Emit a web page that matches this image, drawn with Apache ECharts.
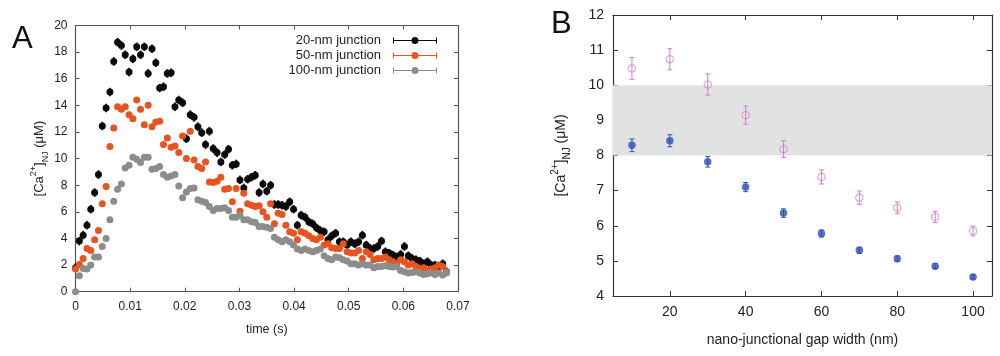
<!DOCTYPE html>
<html><head><meta charset="utf-8">
<script src="https://cdn.jsdelivr.net/npm/echarts@6/dist/echarts.min.js"></script>
<style>html,body{margin:0;padding:0;background:#fff}#c{width:1000px;height:356px}</style>
</head><body><div id="c"></div>
<script>
// ---------- Panel A data ----------
const timeStep = 0.0007; // sampling interval (s)
const junction20 = [1.8,3.8,4.25,5.0,6.2,7.45,8.8,12.45,13.8,15.0,17.3,18.75,18.5,17.8,16.5,17.5,18.4,17.8,18.4,16.4,18.25,17.2,15.3,15.4,16.4,16.45,13.9,14.4,14.2,11.5,13.3,13.1,12.4,11.95,11.05,12.05,10.75,10.45,9.75,10.3,10.7,9.5,9.6,8.4,7.8,8.45,8.6,8.75,7.45,8.1,7.55,8.0,6.55,6.55,6.5,6.4,6.75,6.2,5.0,5.75,5.6,5.25,5.1,4.8,4.6,4.5,3.9,4.2,4.4,3.75,3.75,3.5,3.75,3.6,3.75,4.25,3.5,3.25,3.25,3.4,3.8,3.0,2.9,2.75,2.6,2.8,3.4,2.7,2.5,2.4,2.3,2.1,2.25,2.0,2.0,1.9,2.1,1.5];
const junction50 = [1.7,2.05,2.5,3.25,3.1,3.9,4.6,6.6,7.9,10.9,12.3,13.9,13.7,13.9,13.3,13.0,14.4,13.7,12.55,14.0,12.4,12.75,12.8,11.05,11.55,10.85,10.95,10.45,11.7,10.0,12.05,9.9,9.4,9.25,9.75,8.25,8.2,8.3,8.6,7.7,7.75,6.75,7.75,6.05,7.4,6.6,6.5,6.4,6.45,6.0,5.6,6.6,5.1,5.9,5.8,5.0,4.5,4.4,3.9,4.5,4.4,4.2,4.0,3.9,4.1,3.5,3.6,3.3,3.25,3.25,3.6,3.0,2.9,2.9,3.1,2.5,3.0,2.8,2.4,2.5,2.5,2.6,2.4,2.25,2.1,2.4,2.25,2.0,2.1,1.9,1.75,1.8,1.6,1.7,1.8,2.0,1.9,1.5];
const junction100 = [0.0,1.2,1.75,1.7,2.0,2.6,2.6,3.4,4.0,5.4,6.8,7.7,8.1,9.3,9.5,10.1,9.95,9.7,10.1,10.1,9.2,9.25,9.4,8.8,8.6,8.7,8.8,7.95,7.05,7.5,7.75,7.8,6.9,6.8,6.7,6.4,6.1,6.25,6.25,6.3,6.1,5.6,5.6,5.75,5.4,5.4,5.25,5.2,4.9,4.9,4.85,4.75,4.1,3.9,3.75,3.9,3.75,3.5,3.2,3.1,3.2,3.1,3.0,3.1,3.2,2.7,2.5,2.4,2.6,2.55,2.4,2.3,2.1,2.1,2.0,2.1,2.0,2.0,1.8,1.9,1.9,1.95,1.9,1.85,1.9,1.6,1.5,1.4,1.45,1.5,1.4,1.3,1.35,1.4,1.3,1.4,1.25,1.4];
const err20 = 0.28, err50 = 0.18, err100 = 0.15;
const seriesNamesA = ['20-nm junction','50-nm junction','100-nm junction'];

// ---------- Panel B data ----------
const gapWidth = [10,20,30,40,50,60,70,80,90,100];
const caFilled = [8.29,8.42,7.82,7.10,6.36,5.78,5.30,5.06,4.85,4.54];
const caFilledErr = [0.18,0.17,0.15,0.13,0.12,0.10,0.09,0.08,0.07,0.06];
const caOpen = [10.48,10.74,10.02,9.15,8.18,7.39,6.80,6.51,6.25,5.85];
const caOpenErr = [0.31,0.30,0.30,0.26,0.24,0.20,0.19,0.17,0.16,0.14];
const gapTicks = [20,40,60,80,100];
const bandRange = [8,10];

const FONT = '"Liberation Sans", Arial, Helvetica, sans-serif';
const colA = ['#0a0a0a','#e9531f','#8c8c8c'];
const colBlue = '#2e4fb4', colPink = '#d47cc6';

function toTriples(xs, ys, e) {
  return ys.map((v, i) => [xs[i], v, Array.isArray(e) ? e[i] : e]);
}
const timesA = junction20.map((_, i) => +(i * timeStep).toFixed(5));

function errRender(capHalf, color) {
  return function (params, api) {
    const x = api.value(0), y = api.value(1), e = api.value(2);
    const t = api.coord([x, y + e]), b = api.coord([x, y - e]);
    const st = { stroke: color, lineWidth: 1 };
    return { type: 'group', children: [
      { type: 'line', shape: { x1: t[0], y1: t[1], x2: b[0], y2: b[1] }, style: st },
      { type: 'line', shape: { x1: t[0] - capHalf, y1: t[1], x2: t[0] + capHalf, y2: t[1] }, style: st },
      { type: 'line', shape: { x1: b[0] - capHalf, y1: b[1], x2: b[0] + capHalf, y2: b[1] }, style: st }
    ]};
  };
}

const yName = '{t|[Ca}{sup|2+}{t|]}{sub|NJ}{t| (μM)}';
function yNameStyle(fs) {
  return { fontFamily: FONT, color: '#222', fontSize: fs,
    rich: {
      t: { fontFamily: FONT, fontSize: fs, color: '#222', lineHeight: fs + 8, verticalAlign: 'middle' },
      sup: { fontFamily: FONT, fontSize: fs - 4, color: '#222', lineHeight: fs - 4, verticalAlign: 'top' },
      sub: { fontFamily: FONT, fontSize: fs - 4, color: '#222', lineHeight: fs - 4, verticalAlign: 'bottom' }
    } };
}

const frameA = { show: true, onZero: false, lineStyle: { color: '#555', width: 1.2 } };
const frameB = { show: true, onZero: false, lineStyle: { color: '#333', width: 1.2 } };
const tickA = { show: true, inside: true, length: 4, lineStyle: { color: '#555' } };
const tickB = { show: true, inside: true, length: 5, lineStyle: { color: '#333' } };

const legendIcon = 'path://M1,4.5L18.5,4.5L18.5,5.5L1,5.5Z M25.5,4.5L43,4.5L43,5.5L25.5,5.5Z M0,2L1,2L1,8L0,8Z M43,2L44,2L44,8L43,8Z M18.5,5A3.5,3.5,0,1,1,25.5,5A3.5,3.5,0,1,1,18.5,5Z';

const option = {
  animation: false,
  textStyle: { fontFamily: FONT },
  grid: [
    { left: 75.5, right: 542, top: 25.5, bottom: 64.3 },
    { left: 613, right: 8, top: 15, bottom: 60 }
  ],
  xAxis: [
    { gridIndex: 0, type: 'value', min: 0, max: 0.07, interval: 0.01, position: 'bottom',
      axisLine: frameA, axisTick: tickA, splitLine: { show: false },
      axisLabel: { fontSize: 12, color: '#222', margin: 9, fontFamily: FONT,
        formatter: v => v === 0 ? '0' : v.toFixed(2) },
      name: 'time (s)', nameLocation: 'middle', nameGap: 31,
      nameTextStyle: { fontSize: 12.5, color: '#222', fontFamily: FONT } },
    { gridIndex: 0, type: 'value', min: 0, max: 0.07, interval: 0.01, position: 'top',
      axisLine: frameA, axisTick: tickA, axisLabel: { show: false }, splitLine: { show: false } },
    { gridIndex: 1, type: 'value', min: 5, max: 105, position: 'bottom',
      axisLine: frameB, axisTick: Object.assign({ customValues: gapTicks }, tickB), splitLine: { show: false },
      axisLabel: { customValues: gapTicks, fontSize: 14, color: '#222', margin: 9, fontFamily: FONT },
      name: 'nano-junctional gap width (nm)', nameLocation: 'middle', nameGap: 37,
      nameTextStyle: { fontSize: 14, color: '#222', fontFamily: FONT } },
    { gridIndex: 1, type: 'value', min: 5, max: 105, position: 'top',
      axisLine: frameB, axisTick: Object.assign({ customValues: gapTicks }, tickB),
      axisLabel: { show: false }, splitLine: { show: false } }
  ],
  yAxis: [
    { gridIndex: 0, type: 'value', min: 0, max: 20, interval: 2, position: 'left',
      axisLine: frameA, axisTick: tickA, splitLine: { show: false },
      axisLabel: { fontSize: 12, color: '#222', margin: 8, fontFamily: FONT },
      name: yName, nameLocation: 'middle', nameGap: 24, nameRotate: 90, nameTextStyle: yNameStyle(13) },
    { gridIndex: 0, type: 'value', min: 0, max: 20, interval: 2, position: 'right',
      axisLine: frameA, axisTick: tickA, axisLabel: { show: false }, splitLine: { show: false } },
    { gridIndex: 1, type: 'value', min: 4, max: 12, interval: 1, position: 'left',
      axisLine: frameB, axisTick: tickB, splitLine: { show: false },
      axisLabel: { fontSize: 14, color: '#222', margin: 9, fontFamily: FONT },
      name: yName, nameLocation: 'middle', nameGap: 41, nameRotate: 90, nameTextStyle: yNameStyle(14) },
    { gridIndex: 1, type: 'value', min: 4, max: 12, interval: 1, position: 'right',
      axisLine: frameB, axisTick: tickB, axisLabel: { show: false }, splitLine: { show: false } }
  ],
  legend: {
    data: seriesNamesA, orient: 'vertical', align: 'right', right: 558, top: 29,
    itemWidth: 44, itemHeight: 10, itemGap: 2, icon: legendIcon,
    textStyle: { fontSize: 13, color: '#222', fontFamily: FONT, padding: [0, 7, 0, 0] },
    selectedMode: false
  },
  graphic: [
    { type: 'text', left: 12, top: 24, style: { text: 'A', fontSize: 31, fontFamily: FONT, fill: '#111' } },
    { type: 'text', left: 551, top: 9, style: { text: 'B', fontSize: 31, fontFamily: FONT, fill: '#111' } }
  ],
  series: [
    { type: 'custom', xAxisIndex: 0, yAxisIndex: 0, renderItem: errRender(1, colA[0]), data: toTriples(timesA, junction20, err20), z: 2, silent: true },
    { name: seriesNamesA[0], type: 'scatter', xAxisIndex: 0, yAxisIndex: 0, symbolSize: 7,
      itemStyle: { color: colA[0], opacity: 1 }, data: junction20.map((v, i) => [timesA[i], v]), z: 3 },
    { type: 'custom', xAxisIndex: 0, yAxisIndex: 0, renderItem: errRender(1, colA[1]), data: toTriples(timesA, junction50, err50), z: 4, silent: true },
    { name: seriesNamesA[1], type: 'scatter', xAxisIndex: 0, yAxisIndex: 0, symbolSize: 7,
      itemStyle: { color: colA[1], opacity: 1 }, data: junction50.map((v, i) => [timesA[i], v]), z: 5 },
    { type: 'custom', xAxisIndex: 0, yAxisIndex: 0, renderItem: errRender(1, colA[2]), data: toTriples(timesA, junction100, err100), z: 6, silent: true },
    { name: seriesNamesA[2], type: 'scatter', xAxisIndex: 0, yAxisIndex: 0, symbolSize: 7,
      itemStyle: { color: colA[2], opacity: 1 }, data: junction100.map((v, i) => [timesA[i], v]), z: 7 },

    { type: 'custom', xAxisIndex: 2, yAxisIndex: 2, renderItem: errRender(2.5, colPink), data: toTriples(gapWidth, caOpen, caOpenErr), z: 3, silent: true,
      markArea: { silent: true, itemStyle: { color: '#e1e3e3' }, data: [[{ yAxis: bandRange[0] }, { yAxis: bandRange[1] }]] } },
    { type: 'scatter', xAxisIndex: 2, yAxisIndex: 2, symbol: 'circle', symbolSize: 7.5,
      itemStyle: { color: 'rgba(0,0,0,0)', borderColor: colPink, borderWidth: 1 }, data: caOpen.map((v, i) => [gapWidth[i], v]), z: 4 },
    { type: 'custom', xAxisIndex: 2, yAxisIndex: 2, renderItem: errRender(2.5, colBlue), data: toTriples(gapWidth, caFilled, caFilledErr), z: 3, silent: true },
    { type: 'scatter', xAxisIndex: 2, yAxisIndex: 2, symbol: 'circle', symbolSize: 7.5,
      itemStyle: { color: colBlue }, data: caFilled.map((v, i) => [gapWidth[i], v]), z: 4 }
  ]
};
const chart = echarts.init(document.getElementById('c'), null, { renderer: 'canvas' });
chart.setOption(option);
</script></body></html>
